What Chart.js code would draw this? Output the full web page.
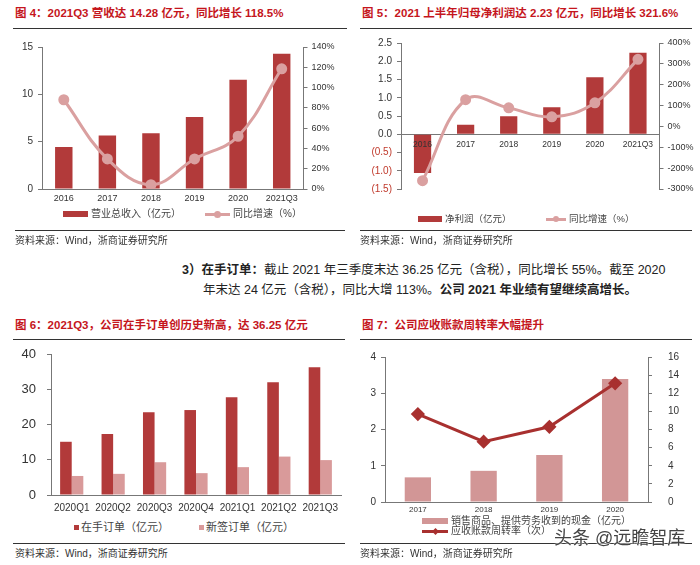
<!DOCTYPE html>
<html lang="zh-CN">
<head>
<meta charset="utf-8">
<title>图4-图7 浙商证券研究所</title>
<script src="https://cdn.jsdelivr.net/npm/chart.js@4.4.1/dist/chart.umd.min.js"></script>
<style>
  body { margin: 0; }
  #page {
    position: relative; width: 700px; height: 565px; background: #fff; overflow: hidden;
    font-family: "Liberation Sans", "Noto Sans CJK SC", sans-serif; color: #222;
  }
  #page > * { position: absolute; }
  .title { color: #c5161d; font-weight: bold; font-size: 11.5px; line-height: 14px; white-space: nowrap; }
  .rule { height: 1px; background: #333; }
  .source { font-size: 10px; line-height: 12px; color: #333; white-space: nowrap; }
  .legend { font-size: 10px; line-height: 12px; color: #444; white-space: nowrap; display: flex; align-items: center; }
  .swatch { display: inline-block; margin-right: 3px; }
  .lineSwatch { position: relative; display: inline-block; width: 25px; height: 3px; margin-right: 3px; }
  .lineSwatch i { position: absolute; left: 50%; top: 50%; }
  .para { font-size: 12.5px; line-height: 16px; white-space: nowrap; color: #222; }
  .mark { font-size: 18px; line-height: 22px; color: #444; white-space: nowrap; text-shadow: 0 0 2px #fff, 0 0 2px #fff; }
</style>
</head>
<body>
<div id="page">
  <!-- 图4 -->
  <div class="title" style="left:15px;top:6px">图 4：2021Q3 营收达 14.28 亿元，同比增长 118.5%</div>
  <div class="rule" style="left:13px;top:28px;width:334px"></div>
  <canvas id="revenueChart" width="350" height="172" style="left:0;top:36px"></canvas>
  <div class="legend" style="left:63px;top:208px"><span class="swatch" style="width:25px;height:6px;background:#b23a3a"></span>营业总收入（亿元）</div>
  <div class="legend" style="left:205px;top:208px"><span class="lineSwatch" style="background:#daa0a0"><i style="width:7px;height:7px;border-radius:50%;background:#daa0a0;margin:-3.5px 0 0 -3.5px"></i></span>同比增速（%）</div>
  <div class="rule" style="left:15px;top:230px;width:330px"></div>
  <div class="source" style="left:15px;top:235px">资料来源：Wind，浙商证券研究所</div>

  <!-- 图5 -->
  <div class="title" style="left:362px;top:6px">图 5：2021 上半年归母净利润达 2.23 亿元，同比增长 321.6%</div>
  <div class="rule" style="left:360px;top:28px;width:332px"></div>
  <canvas id="profitChart" width="350" height="160" style="left:350px;top:36px"></canvas>
  <div class="legend" style="left:418px;top:213px;font-size:9.5px"><span class="swatch" style="width:24px;height:6px;background:#b23a3a"></span>净利润（亿元）</div>
  <div class="legend" style="left:546px;top:213px;font-size:9.5px"><span class="lineSwatch" style="width:20px;background:#daa0a0"><i style="width:6px;height:6px;border-radius:50%;background:#daa0a0;margin:-3px 0 0 -3px"></i></span>同比增速（%）</div>
  <div class="rule" style="left:360px;top:230px;width:332px"></div>
  <div class="source" style="left:360px;top:235px">资料来源：Wind，浙商证券研究所</div>

  <!-- 正文 -->
  <div class="para" style="left:182px;top:262px"><b>3）在手订单：</b>截止 2021 年三季度末达 36.25 亿元（含税），同比增长 55%。截至 2020</div>
  <div class="para" style="left:203px;top:282px">年末达 24 亿元（含税），同比大增 113%。<b>公司 2021 年业绩有望继续高增长。</b></div>

  <!-- 图6 -->
  <div class="title" style="left:15px;top:318px">图 6：2021Q3，公司在手订单创历史新高，达 36.25 亿元</div>
  <div class="rule" style="left:13px;top:339px;width:332px"></div>
  <canvas id="orderChart" width="350" height="172" style="left:0;top:345px"></canvas>
  <div class="legend" style="left:74px;top:521px;font-size:11px"><span class="swatch" style="width:5px;height:5px;background:#b23a3a;margin-right:2px"></span>在手订单（亿元）</div>
  <div class="legend" style="left:199px;top:521px;font-size:11px"><span class="swatch" style="width:5px;height:5px;background:#d99a9a;margin-right:2px"></span>新签订单（亿元）</div>
  <div class="rule" style="left:13px;top:543px;width:332px"></div>
  <div class="source" style="left:15px;top:548px">资料来源：Wind，浙商证券研究所</div>

  <!-- 图7 -->
  <div class="title" style="left:362px;top:318px">图 7：公司应收账款周转率大幅提升</div>
  <div class="rule" style="left:360px;top:339px;width:332px"></div>
  <canvas id="turnoverChart" width="350" height="171" style="left:350px;top:345px"></canvas>
  <div class="legend" style="left:422px;top:516px;line-height:10px"><span class="swatch" style="width:26px;height:6px;background:#d29696"></span>销售商品、提供劳务收到的现金（亿元）</div>
  <div class="legend" style="left:422px;top:526px;line-height:10px"><span class="lineSwatch" style="width:26px;background:#a8302f"><i style="width:5px;height:5px;transform:rotate(45deg);background:#a8302f;margin:-2.5px 0 0 -2.5px"></i></span>应收账款周转率（次）</div>
  <div class="rule" style="left:360px;top:543px;width:332px"></div>
  <div class="source" style="left:360px;top:548px">资料来源：Wind，浙商证券研究所</div>
  <div class="mark" style="left:554px;top:527px">头条 @远瞻智库</div>
</div>

<script>
// 图4 营业总收入
const years = ['2016', '2017', '2018', '2019', '2020', '2021Q3'];
const revenue = [4.43, 5.66, 5.88, 7.6, 11.54, 14.28];
const revenueGrowth = [88, 29.6, 4.2, 29.6, 52, 118.5];

// 图5 净利润
const netProfit = [-1.06, 0.26, 0.49, 0.74, 1.56, 2.23];
const profitGrowth = [-260, 128, 89, 46, 113, 321.6];

// 图6 订单
const quarters = ['2020Q1', '2020Q2', '2020Q3', '2020Q4', '2021Q1', '2021Q2', '2021Q3'];
const backlog = [15.1, 17.3, 23.5, 24.1, 27.7, 32.0, 36.25];
const newOrders = [5.4, 6.0, 9.3, 6.2, 7.9, 10.9, 9.9];

// 图7 应收账款
const arYears = ['2017', '2018', '2019', '2020'];
const cashReceived = [0.68, 0.86, 1.3, 3.39];
const arTurnover = [9.7, 6.65, 8.3, 13.1];

const DARK_RED = '#b23a3a';
const PINK = '#daa0a0';
const LIGHT_RED = '#d99a9a';
const AXIS = '#777';

Chart.defaults.font.family = '"Liberation Sans", "Noto Sans CJK SC", sans-serif';
Chart.defaults.color = '#333';
Chart.defaults.animation = false;
Chart.defaults.plugins.legend.display = false;
Chart.defaults.plugins.tooltip.enabled = false;

// fixed axis width; drop the label padding so layout.padding alone sets the plot top/bottom
const fixWidth = w => scale => {
    scale.width = w;
    scale.paddingTop = 0;
    scale.paddingBottom = 0;
};
const fixHeight = h => scale => { scale.height = h; };

const valueAxis = (min, max, step, size, padding, w, extra = {}) => ({
    type: 'linear',
    min: min,
    max: max,
    ticks: { stepSize: step, font: { size: size }, padding: padding },
    grid: { drawOnChartArea: false, tickLength: 4, color: AXIS },
    border: { color: AXIS },
    afterFit: fixWidth(w),
    ...extra
});

const categoryAxis = (size, padding, h, extra = {}) => ({
    grid: { display: false, drawTicks: false },
    border: { color: AXIS },
    ticks: { font: { size: size }, padding: padding, maxRotation: 0, autoSkip: false },
    afterFit: fixHeight(h),
    ...extra
});

const percent = v => v + '%';

const revenueGrowthAxis = valueAxis(0, 140, 20, 9, 4, 46.5, { position: 'right' });
revenueGrowthAxis.ticks.callback = percent;

new Chart(document.getElementById('revenueChart'), {
    type: 'bar',
    data: {
        labels: years,
        datasets: [
            {
                type: 'line',
                label: '同比增速（%）',
                data: revenueGrowth,
                yAxisID: 'y1',
                borderColor: PINK,
                backgroundColor: PINK,
                borderWidth: 3,
                pointRadius: 4,
                tension: 0.4,
                order: 0
            },
            {
                label: '营业总收入（亿元）',
                data: revenue,
                backgroundColor: DARK_RED,
                categoryPercentage: 0.8,
                barPercentage: 0.5,
                order: 1
            }
        ]
    },
    options: {
        responsive: false,
        layout: { padding: { top: 11, bottom: 0 } },
        scales: {
            x: categoryAxis(9, 4, 19),
            y: valueAxis(0, 15, 5, 10, 5, 42),
            y1: revenueGrowthAxis
        }
    }
});

const profitAxis = valueAxis(-1.5, 2.5, 0.5, 10, 5, 51);
profitAxis.ticks.callback = v => v < 0 ? '(' + Math.abs(v).toFixed(1) + ')' : v.toFixed(1);
profitAxis.ticks.color = ctx => ctx.tick && ctx.tick.value < 0 ? '#c0392b' : '#333';

const profitGrowthAxis = valueAxis(-300, 400, 100, 9, 4, 40.5, { position: 'right' });
profitGrowthAxis.ticks.callback = percent;

// x axis sits on the zero line, labels drawn above the bars
const profitYearAxis = categoryAxis(8.5, 5, 16, { position: { y: 0 } });
profitYearAxis.ticks.z = 1;

new Chart(document.getElementById('profitChart'), {
    type: 'bar',
    data: {
        labels: years,
        datasets: [
            {
                type: 'line',
                label: '同比增速（%）',
                data: profitGrowth,
                yAxisID: 'y1',
                borderColor: PINK,
                backgroundColor: PINK,
                borderWidth: 3,
                pointRadius: 4,
                tension: 0.4,
                order: 0
            },
            {
                label: '净利润（亿元）',
                data: netProfit,
                yAxisID: 'y',
                backgroundColor: DARK_RED,
                categoryPercentage: 0.8,
                barPercentage: 0.5,
                order: 1
            }
        ]
    },
    options: {
        responsive: false,
        layout: { padding: { top: 7, bottom: 4 } },
        scales: {
            x: profitYearAxis,
            y: profitAxis,
            y1: profitGrowthAxis
        }
    }
});

new Chart(document.getElementById('orderChart'), {
    type: 'bar',
    data: {
        labels: quarters,
        datasets: [
            {
                label: '在手订单（亿元）',
                data: backlog,
                backgroundColor: DARK_RED,
                categoryPercentage: 0.56,
                barPercentage: 1
            },
            {
                label: '新签订单（亿元）',
                data: newOrders,
                backgroundColor: LIGHT_RED,
                categoryPercentage: 0.56,
                barPercentage: 1
            }
        ]
    },
    options: {
        responsive: false,
        layout: { padding: { top: 9, right: 9, bottom: 0 } },
        scales: {
            x: categoryAxis(10, 7, 22),
            y: valueAxis(0, 40, 10, 13, 11, 51)
        }
    }
});

new Chart(document.getElementById('turnoverChart'), {
    type: 'bar',
    data: {
        labels: arYears,
        datasets: [
            {
                type: 'line',
                label: '应收账款周转率（次）',
                data: arTurnover,
                yAxisID: 'y1',
                borderColor: '#a8302f',
                backgroundColor: '#a8302f',
                borderWidth: 3,
                pointStyle: 'rectRot',
                pointRadius: 5,
                tension: 0,
                order: 0
            },
            {
                label: '销售商品、提供劳务收到的现金（亿元）',
                data: cashReceived,
                yAxisID: 'y',
                backgroundColor: '#d29696',
                categoryPercentage: 0.8,
                barPercentage: 0.5,
                order: 1
            }
        ]
    },
    options: {
        responsive: false,
        layout: { padding: { top: 12, bottom: 0 } },
        scales: {
            x: categoryAxis(8, 3, 14),
            y: valueAxis(0, 4, 1, 10, 5, 35),
            y1: valueAxis(0, 16, 2, 10, 16, 52, { position: 'right' })
        }
    }
});
</script>
</body>
</html>
